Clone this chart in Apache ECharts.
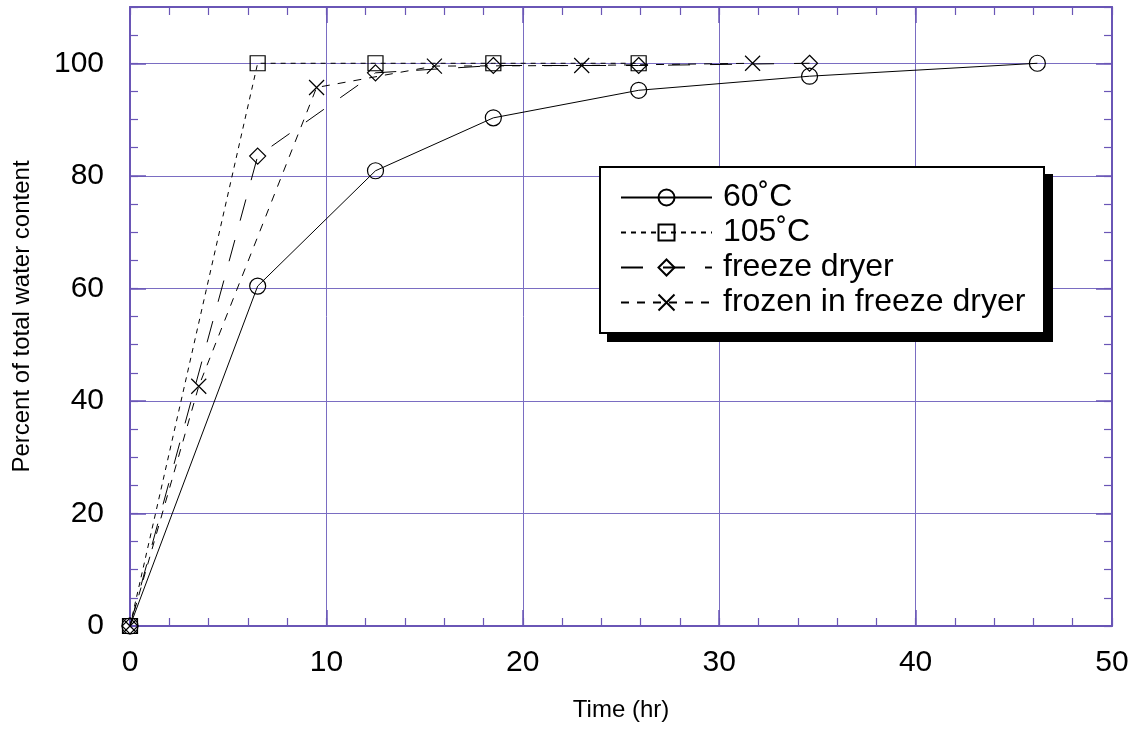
<!DOCTYPE html>
<html>
<head>
<meta charset="utf-8">
<script src="https://cdn.jsdelivr.net/npm/echarts@6/dist/echarts.min.js"></script>
<style>
html,body{margin:0;padding:0;background:#fff;}
#chart{width:1136px;height:730px;}
</style>
</head>
<body>
<div id="chart"></div>
<script>
// ---- data ----
var seriesNames = ['60\u02DAC', '105\u02DAC', 'freeze dryer', 'frozen in freeze dryer'];
var time60 = [0, 6.5, 12.5, 18.5, 25.9, 34.6, 46.2];
var water60 = [0, 60.4, 80.9, 90.3, 95.2, 97.7, 100];
var time105 = [0, 6.5, 12.5, 18.5, 25.9];
var water105 = [0, 100, 100, 100, 100];
var timeFD = [0, 6.5, 12.5, 18.5, 25.9, 34.6];
var waterFD = [0, 83.5, 98.3, 99.6, 99.6, 100];
var timeFZ = [0, 3.5, 9.5, 15.5, 23.0, 31.7];
var waterFZ = [0, 42.6, 95.7, 99.5, 99.6, 100];
var xTicks = [0, 10, 20, 30, 40, 50];
var yTicks = [0, 20, 40, 60, 80, 100];

function zip(xs, ys) { return xs.map(function (x, i) { return [x, ys[i]]; }); }

var FONT = 'Liberation Sans, Arial, sans-serif';
var GRID_C = '#7a6dc2';
var AXIS_C = '#6a56b6';
var GRID_BOX = { left: 130, top: 7, right: 24, bottom: 104, containLabel: false };

function xAxisDef(grid, pos, interval, len, main) {
  var labeled = main && pos === 'bottom';
  return {
    type: 'value', gridIndex: grid, position: pos, min: xTicks[0], max: xTicks[xTicks.length - 1], interval: interval,
    axisLine: { show: main, onZero: false, lineStyle: { color: AXIS_C, width: 2 } },
    axisTick: { show: true, inside: true, length: len, lineStyle: { color: AXIS_C, width: main ? 1.5 : 1.2 } },
    axisLabel: labeled ? { show: true, fontSize: 30, color: '#000', fontFamily: FONT, margin: 22 } : { show: false },
    splitLine: { show: labeled, lineStyle: { color: GRID_C, width: 1 } },
    name: labeled ? 'Time (hr)' : '',
    nameLocation: 'middle', nameGap: 72,
    nameTextStyle: { fontSize: 24, color: '#000', fontFamily: FONT }
  };
}
function yAxisDef(grid, pos, interval, len, main) {
  var labeled = main && pos === 'left';
  return {
    type: 'value', gridIndex: grid, position: pos, min: 0, max: 110, interval: interval,
    axisLine: { show: main, onZero: false, lineStyle: { color: AXIS_C, width: 2 } },
    axisTick: { show: true, inside: true, length: len, lineStyle: { color: AXIS_C, width: main ? 1.5 : 1.2 } },
    axisLabel: labeled ? {
      show: true, fontSize: 30, color: '#000', fontFamily: FONT, margin: 26, showMaxLabel: false,
      formatter: function (v) { return yTicks.indexOf(v) >= 0 ? String(v) : ''; }
    } : { show: false },
    splitLine: { show: labeled, lineStyle: { color: GRID_C, width: 1 } },
    name: labeled ? 'Percent of total water content' : '',
    nameLocation: 'middle', nameGap: 96,
    nameTextStyle: { fontSize: 24, color: '#000', fontFamily: FONT }
  };
}

var markerStyle = { color: 'transparent', borderColor: '#000', borderWidth: 1.2 };

var chart = echarts.init(document.getElementById('chart'), null, { renderer: 'canvas' });
chart.setOption({
  animation: false,
  backgroundColor: '#fff',
  grid: [GRID_BOX, Object.assign({}, GRID_BOX)],
  xAxis: [
    xAxisDef(0, 'bottom', 10, 16, true),
    xAxisDef(0, 'top', 10, 16, true),
    xAxisDef(1, 'bottom', 2, 8, false),
    xAxisDef(1, 'top', 2, 8, false)
  ],
  yAxis: [
    yAxisDef(0, 'left', 20, 16, true),
    yAxisDef(0, 'right', 20, 16, true),
    yAxisDef(1, 'left', 5, 8, false),
    yAxisDef(1, 'right', 5, 8, false)
  ],
  graphic: [
    { type: 'rect', z: 3, silent: true, shape: { x: 607, y: 174, width: 446, height: 168 }, style: { fill: '#000' } },
    { type: 'rect', z: 3, silent: true, shape: { x: 600, y: 167, width: 444, height: 166 }, style: { fill: '#fff', stroke: '#000', lineWidth: 2 } }
  ],
  legend: {
    show: true, orient: 'vertical', left: 599, top: 167,
    padding: [13, 18, 15, 21],
    itemWidth: 91, itemHeight: 20, itemGap: 0,
    backgroundColor: 'transparent', borderWidth: 0,
    textStyle: { fontSize: 32, color: '#000', fontFamily: FONT, lineHeight: 35, padding: [0, 0, 0, 6] },
    selectedMode: false,
    data: seriesNames
  },
  series: [
    {
      name: seriesNames[0], type: 'line', xAxisIndex: 0, yAxisIndex: 0,
      data: zip(time60, water60), symbol: 'circle', symbolSize: 16,
      lineStyle: { color: '#000', width: 1, type: 'solid' }, itemStyle: markerStyle
    },
    {
      name: seriesNames[1], type: 'line', xAxisIndex: 0, yAxisIndex: 0,
      data: zip(time105, water105), symbol: 'rect', symbolSize: 15,
      lineStyle: { color: '#000', width: 1, type: [5, 5] }, itemStyle: markerStyle
    },
    {
      name: seriesNames[2], type: 'line', xAxisIndex: 0, yAxisIndex: 0,
      data: zip(timeFD, waterFD), symbol: 'diamond', symbolSize: 16,
      lineStyle: { color: '#000', width: 1, type: [22, 20] }, itemStyle: markerStyle
    },
    {
      name: seriesNames[3], type: 'line', xAxisIndex: 0, yAxisIndex: 0,
      data: zip(timeFZ, waterFZ), symbol: 'path://M0,0L10,10M10,0L0,10', symbolSize: 15,
      lineStyle: { color: '#000', width: 1, type: [8, 8] }, itemStyle: markerStyle
    }
  ]
});
</script>
</body>
</html>
